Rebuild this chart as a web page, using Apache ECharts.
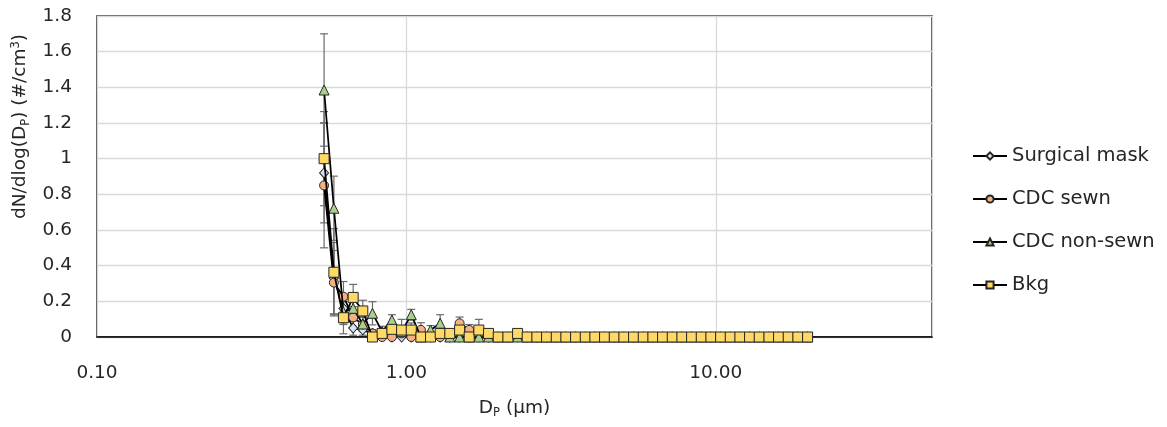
<!DOCTYPE html>
<html>
<head>
<meta charset="utf-8">
<script src="https://cdn.jsdelivr.net/npm/echarts@6/dist/echarts.min.js"></script>
<style>
  html, body { margin: 0; padding: 0; background: #fff; }
  #chart { width: 1167px; height: 427px; }
</style>
</head>
<body>
<div id="chart"></div>
<script>
// APS channel midpoints (µm)
const sizes = [0.542, 0.583, 0.626, 0.673, 0.723, 0.777, 0.835, 0.898, 0.965, 1.037,
  1.114, 1.197, 1.286, 1.382, 1.486, 1.596, 1.715, 1.843, 1.981, 2.129,
  2.288, 2.458, 2.642, 2.839, 3.051, 3.278, 3.523, 3.786, 4.068, 4.371,
  4.698, 5.048, 5.425, 5.829, 6.264, 6.732, 7.234, 7.774, 8.354, 8.977,
  9.647, 10.37, 11.14, 11.97, 12.86, 13.82, 14.86, 15.96, 17.15, 18.43, 19.81];

const seriesNames = ['Surgical mask', 'CDC sewn', 'CDC non-sewn', 'Bkg'];

const surgicalMask = [0.92, 0.33, 0.16, 0.05, 0.04, 0.02, 0.01, 0.0, 0.0, 0.0,
  0.01, 0, 0, 0, 0, 0, 0, 0, 0, 0,
  0, 0, 0, 0, 0, 0, 0, 0, 0, 0,
  0, 0, 0, 0, 0, 0, 0, 0, 0, 0,
  0, 0, 0, 0, 0, 0, 0, 0, 0, 0, 0];
const surgicalMaskErr = [0.28, 0.2, 0.08, 0.04, 0.03, 0.02, 0.01, 0, 0, 0,
  0.01, 0, 0, 0, 0, 0, 0, 0, 0, 0,
  0, 0, 0, 0, 0, 0, 0, 0, 0, 0,
  0, 0, 0, 0, 0, 0, 0, 0, 0, 0,
  0, 0, 0, 0, 0, 0, 0, 0, 0, 0, 0];

const cdcSewn = [0.85, 0.305, 0.226, 0.11, 0.07, 0.02, 0.0, 0.0, 0.02, 0.0,
  0.04, 0, 0, 0, 0.077, 0.04, 0, 0, 0, 0,
  0, 0, 0, 0, 0, 0, 0, 0, 0, 0,
  0, 0, 0, 0, 0, 0, 0, 0, 0, 0,
  0, 0, 0, 0, 0, 0, 0, 0, 0, 0, 0];
const cdcSewnErr = [0.35, 0.18, 0.085, 0.06, 0.04, 0.02, 0, 0, 0.02, 0,
  0.04, 0, 0, 0, 0.035, 0.03, 0, 0, 0, 0,
  0, 0, 0, 0, 0, 0, 0, 0, 0, 0,
  0, 0, 0, 0, 0, 0, 0, 0, 0, 0,
  0, 0, 0, 0, 0, 0, 0, 0, 0, 0, 0];

const cdcNonSewn = [1.385, 0.722, 0.14, 0.161, 0.073, 0.133, 0.03, 0.095, 0.03, 0.125,
  0.0, 0.039, 0.077, 0, 0, 0, 0, 0, 0, 0,
  0, 0, 0, 0, 0, 0, 0, 0, 0, 0,
  0, 0, 0, 0, 0, 0, 0, 0, 0, 0,
  0, 0, 0, 0, 0, 0, 0, 0, 0, 0, 0];
const cdcNonSewnErr = [0.315, 0.18, 0.07, 0.06, 0.04, 0.065, 0.03, 0.03, 0.03, 0.03,
  0, 0.025, 0.048, 0, 0, 0, 0, 0, 0, 0,
  0, 0, 0, 0, 0, 0, 0, 0, 0, 0,
  0, 0, 0, 0, 0, 0, 0, 0, 0, 0,
  0, 0, 0, 0, 0, 0, 0, 0, 0, 0, 0];

const bkg = [1.0, 0.363, 0.108, 0.222, 0.146, 0.0, 0.02, 0.043, 0.039, 0.039,
  0.0, 0.0, 0.02, 0.02, 0.039, 0.0, 0.039, 0.02, 0.0, 0.0,
  0.02, 0, 0, 0, 0, 0, 0, 0, 0, 0,
  0, 0, 0, 0, 0, 0, 0, 0, 0, 0,
  0, 0, 0, 0, 0, 0, 0, 0, 0, 0, 0];
const bkgErr = [0.264, 0.245, 0.09, 0.073, 0.06, 0, 0.02, 0.04, 0.06, 0.04,
  0, 0, 0.02, 0.02, 0.04, 0, 0.06, 0.02, 0, 0,
  0.02, 0, 0, 0, 0, 0, 0, 0, 0, 0,
  0, 0, 0, 0, 0, 0, 0, 0, 0, 0,
  0, 0, 0, 0, 0, 0, 0, 0, 0, 0, 0];

const yTicks = [0, 0.2, 0.4, 0.6, 0.8, 1, 1.2, 1.4, 1.6, 1.8];
const xTickLabels = ['0.10', '1.00', '10.00'];

const FONT = 'DejaVu Sans';
const TXT = '#262626';

const markerStyles = [
  { symbol: 'diamond', size: [9, 10], fill: '#DAE3F3' },
  { symbol: 'circle', size: 9, fill: '#F4B183' },
  { symbol: 'triangle', size: 10, fill: '#A9D18E' },
  { symbol: 'rect', size: 10, fill: '#FFD966' }
];
const values = [surgicalMask, cdcSewn, cdcNonSewn, bkg];
const errs = [surgicalMaskErr, cdcSewnErr, cdcNonSewnErr, bkgErr];

function errRender(params, api) {
  const x = api.value(0), lo = api.value(1), hi = api.value(2);
  if (hi - lo <= 0) return null;
  const p1 = api.coord([x, hi]);
  const p2 = api.coord([x, lo]);
  const w = 4;
  const st = { stroke: '#6b6b6b', lineWidth: 1.2 };
  return {
    type: 'group',
    children: [
      { type: 'line', shape: { x1: p1[0], y1: p1[1], x2: p2[0], y2: p2[1] }, style: st },
      { type: 'line', shape: { x1: p1[0] - w, y1: p1[1], x2: p1[0] + w, y2: p1[1] }, style: st },
      { type: 'line', shape: { x1: p2[0] - w, y1: p2[1], x2: p2[0] + w, y2: p2[1] }, style: st }
    ]
  };
}

const series = [];
values.forEach((vals, i) => {
  series.push({
    type: 'custom',
    name: seriesNames[i] + ' err',
    renderItem: errRender,
    clip: true,
    z: 1,
    silent: true,
    data: vals.map((v, k) => [sizes[k], v - errs[i][k], v + errs[i][k]]),
    encode: { x: 0, y: [1, 2] }
  });
});
values.forEach((vals, i) => {
  const m = markerStyles[i];
  series.push({
    type: 'line',
    name: seriesNames[i],
    data: vals.map((v, k) => [sizes[k], v]),
    symbol: m.symbol,
    symbolSize: m.size,
    showAllSymbol: true,
    z: 2 + i,
    lineStyle: { color: '#000', width: 1.75 },
    itemStyle: { color: m.fill, borderColor: '#262626', borderWidth: 1 },
    emphasis: { disabled: true }
  });
});

const chart = echarts.init(document.getElementById('chart'), null, { renderer: 'canvas' });
chart.setOption({
  backgroundColor: '#fff',
  animation: false,
  grid: { left: 97, right: 235, top: 16, bottom: 90, show: true, borderColor: '#1f1f1f', borderWidth: 1.5, backgroundColor: 'transparent' },
  legend: {
    data: seriesNames,
    orient: 'vertical',
    left: 972,
    top: 146,
    padding: 0,
    itemWidth: 34,
    itemHeight: 9,
    itemGap: 23,
    textStyle: { fontFamily: FONT, fontSize: 19.5, color: TXT }
  },
  xAxis: {
    type: 'log',
    logBase: 10,
    min: 0.1,
    max: 50,
    axisLine: { show: true, onZero: false, lineStyle: { color: '#000', width: 1.5 } },
    axisTick: { show: false },
    splitLine: { show: true, lineStyle: { color: '#d9d9d9', width: 1.3 } },
    axisLabel: {
      margin: 27,
      fontFamily: FONT, fontSize: 18.5, color: TXT,
      formatter: function (v) {
        const l = Math.log10(v);
        if (Math.abs(l - Math.round(l)) < 1e-6) {
          const idx = Math.round(l) + 1;
          return xTickLabels[idx] !== undefined ? xTickLabels[idx] : '';
        }
        return '';
      }
    },
    name: '{a|D}{s|P}{a| (µm)}',
    nameLocation: 'middle',
    nameGap: 60,
    nameTextStyle: {
      rich: {
        a: { fontFamily: FONT, fontSize: 18.5, color: TXT },
        s: { fontFamily: FONT, fontSize: 11.5, color: TXT, padding: [10, 0, 0, 0] }
      }
    }
  },
  yAxis: {
    type: 'value',
    min: yTicks[0],
    max: yTicks[yTicks.length - 1],
    interval: 0.2,
    axisLine: { show: false },
    axisTick: { show: false },
    splitLine: { show: true, lineStyle: { color: '#d9d9d9', width: 1.3 } },
    axisLabel: {
      margin: 25,
      fontFamily: FONT, fontSize: 18.5, color: TXT,
      formatter: function (v) {
        let best = yTicks[0];
        yTicks.forEach(t => { if (Math.abs(t - v) < Math.abs(best - v)) best = t; });
        return String(best);
      }
    },
    name: '{a|dN/dlog(D}{s|P}{a|) (#/cm}{u|3}{a|)}',
    nameLocation: 'middle',
    nameRotate: 90,
    nameGap: 56,
    nameTextStyle: {
      padding: [0, 0, 0, 100],
      rich: {
        a: { fontFamily: FONT, fontSize: 18.5, color: TXT },
        s: { fontFamily: FONT, fontSize: 11.5, color: TXT, padding: [10, 0, 0, 0] },
        u: { fontFamily: FONT, fontSize: 11.5, color: TXT, padding: [0, 0, 10, 0] }
      }
    }
  },
  series: series
});
</script>
</body>
</html>
